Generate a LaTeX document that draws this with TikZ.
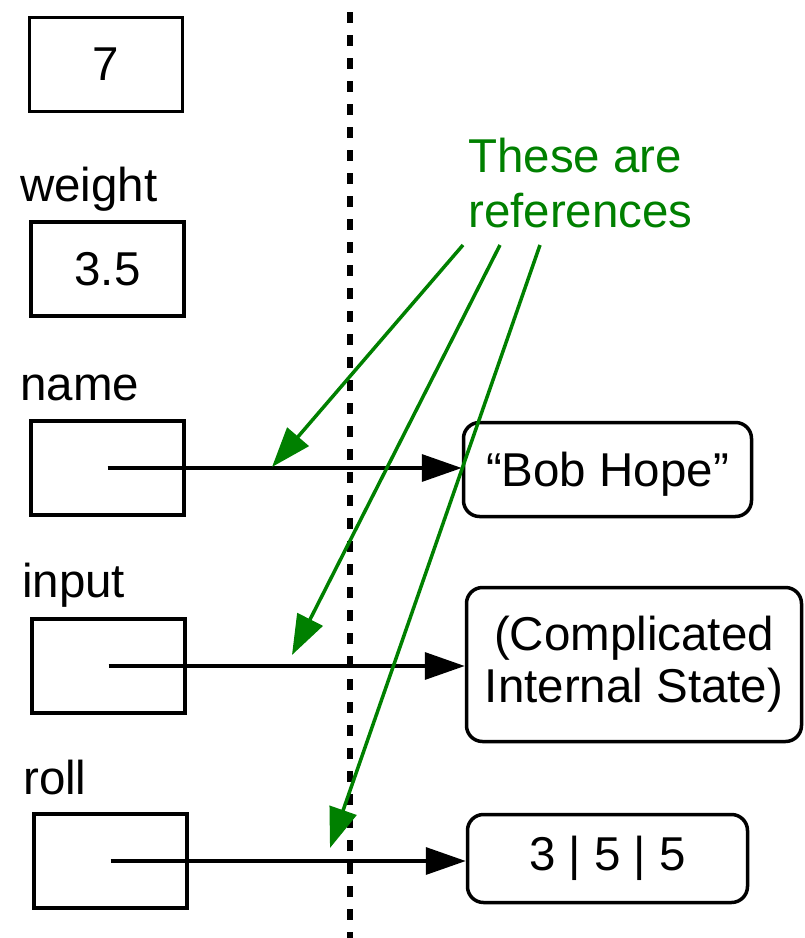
\documentclass[tikz,border=0pt]{standalone}
\usepackage{fontspec}
\setmainfont{Liberation Sans}
\usetikzlibrary{arrows.meta}
\definecolor{refgreen}{RGB}{0,128,0}

\begin{document}
\begin{tikzpicture}[x=1pt, y=-1pt,
        every node/.style={font=\fontsize{47.5}{55}\selectfont, inner sep=0pt},
        varbox/.style={draw, line width=3.5pt, minimum width=153pt, minimum height=94pt},
        objbox/.style={draw, line width=3.5pt, rounded corners=16pt, align=center},
        lbl/.style={anchor=base west},
        ptr/.style={line width=3.5pt, -{Triangle[length=40pt, width=27pt]}},
        refarrow/.style={refgreen, line width=3.5pt, -{Triangle[length=40pt, width=28pt]}},
        divider/.style={line width=6pt, dash pattern=on 11pt off 12pt}]
        \useasboundingbox (0,0) rectangle (805,938);

        % the values on the left
        \node[varbox] (seven) at (106,64.5) {7};
        \node[lbl] (wlabel) at (20,201) {weight};
        \node[varbox] (weight) at (107.5,269) {3.5};
        \node[lbl] (nlabel) at (20,400) {name};
        \node[varbox] (name) at (107.5,468) {};
        \node[lbl] (ilabel) at (22,597) {input};
        \node[varbox] (input) at (108.5,666) {};
        \node[lbl] (rlabel) at (23,794) {roll};
        \node[varbox] (roll) at (110.5,861) {};

        % the objects on the right
        \node[objbox, minimum width=288pt, minimum height=94pt, text depth=0pt] (bob) at (607.5,469.5) {``Bob Hope''};
        \node[objbox, minimum width=335pt, minimum height=154pt, font=\fontsize{47.5}{52}\selectfont] (state) at (634,664.5) {(Complicated\\Internal State)};
        \node[objbox, minimum width=280pt, minimum height=88pt] (dice) at (607.5,858.5) {3 | 5 | 5};

        \draw[divider] (350,12) -- (350,938);

        \draw[ptr] (name.center) -- (name.center -| bob.west);
        \draw[ptr] (input.center) -- (input.center -| state.west);
        \draw[ptr] (roll.center) -- (roll.center -| dice.west);

        % the green note
        \node[text=refgreen, align=left, anchor=north west] (refs) at (468,138) {These are\\references};
        \coordinate (r1) at (463,245);
        \coordinate (r2) at (500,245);
        \coordinate (r3) at (540,245);
        \coordinate (t1) at (272,467);
        \coordinate (t2) at (292,655);
        \coordinate (t3) at (330,848);
        \draw[refarrow] (r1) -- (t1);
        \draw[refarrow] (r2) -- (t2);
        \draw[refarrow] (r3) -- (t3);
\end{tikzpicture}
\end{document}
